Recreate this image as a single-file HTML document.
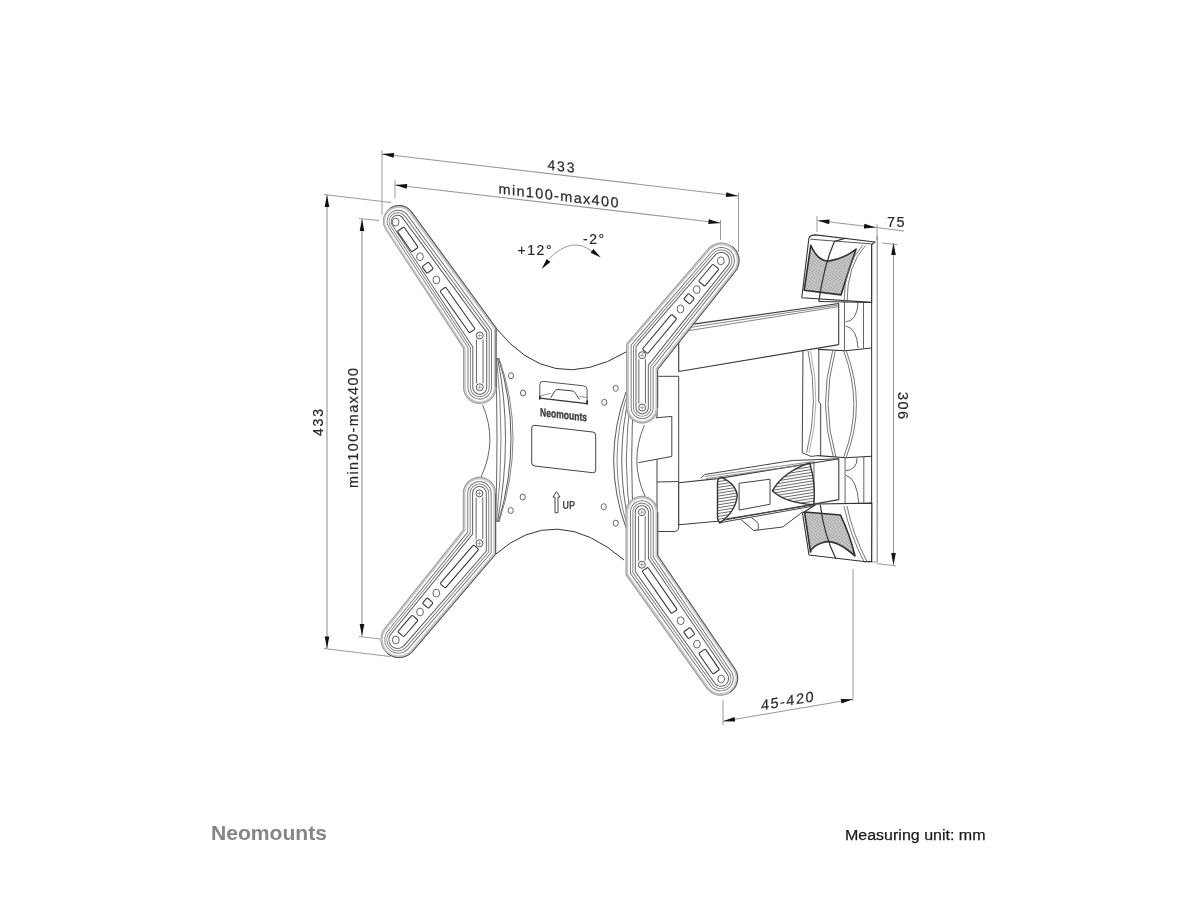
<!DOCTYPE html><html><head><meta charset="utf-8"><style>html,body{margin:0;padding:0;background:#fff;width:1200px;height:900px;overflow:hidden}svg{display:block}</style></head><body>
<svg style="will-change:transform" width="1200" height="900" viewBox="0 0 1200 900" font-family="Liberation Sans, sans-serif">
<line x1="382" y1="150" x2="382" y2="215" stroke="#9a9a9a" stroke-width="1"/>
<line x1="738.5" y1="193" x2="738.5" y2="252" stroke="#9a9a9a" stroke-width="1"/>
<line x1="382" y1="154" x2="738" y2="196" stroke="#9a9a9a" stroke-width="1.15"/><path d="M382.0,154.0 L394.2,153.1 L393.6,157.7 Z" fill="#111"/><path d="M738.0,196.0 L725.8,196.9 L726.4,192.3 Z" fill="#111"/>
<line x1="395" y1="180" x2="395" y2="198" stroke="#9a9a9a" stroke-width="1"/>
<line x1="720.5" y1="220" x2="720.5" y2="240" stroke="#9a9a9a" stroke-width="1"/>
<line x1="395" y1="185" x2="720.5" y2="223" stroke="#9a9a9a" stroke-width="1.15"/><path d="M395.0,185.0 L407.2,184.1 L406.7,188.7 Z" fill="#111"/><path d="M720.5,223.0 L708.3,223.9 L708.8,219.3 Z" fill="#111"/>
<line x1="324" y1="194.5" x2="391" y2="202.5" stroke="#9a9a9a" stroke-width="1"/>
<line x1="324" y1="648.5" x2="390" y2="656.5" stroke="#9a9a9a" stroke-width="1"/>
<line x1="327" y1="195" x2="327" y2="648.5" stroke="#9a9a9a" stroke-width="1.15"/><path d="M327.0,195.0 L329.3,207.0 L324.7,207.0 Z" fill="#111"/><path d="M327.0,648.5 L324.7,636.5 L329.3,636.5 Z" fill="#111"/>
<line x1="359" y1="218.5" x2="379" y2="220.5" stroke="#9a9a9a" stroke-width="1"/>
<line x1="359" y1="636.5" x2="380" y2="639" stroke="#9a9a9a" stroke-width="1"/>
<line x1="362" y1="219" x2="362" y2="636" stroke="#9a9a9a" stroke-width="1.15"/><path d="M362.0,219.0 L364.3,231.0 L359.7,231.0 Z" fill="#111"/><path d="M362.0,636.0 L359.7,624.0 L364.3,624.0 Z" fill="#111"/>
<line x1="817" y1="216" x2="817" y2="232" stroke="#9a9a9a" stroke-width="1"/>
<line x1="877" y1="224" x2="877" y2="240" stroke="#9a9a9a" stroke-width="1"/>
<line x1="876" y1="227.5" x2="904" y2="231" stroke="#9a9a9a" stroke-width="1"/>
<line x1="817.5" y1="220.5" x2="876" y2="227.5" stroke="#9a9a9a" stroke-width="1.15"/><path d="M817.5,220.5 L829.7,219.6 L829.1,224.2 Z" fill="#111"/><path d="M876.0,227.5 L863.8,228.4 L864.4,223.8 Z" fill="#111"/>
<line x1="882" y1="243" x2="897" y2="244.5" stroke="#9a9a9a" stroke-width="1"/>
<line x1="877" y1="563.5" x2="896" y2="566" stroke="#9a9a9a" stroke-width="1"/>
<line x1="893.5" y1="243" x2="893.5" y2="565" stroke="#9a9a9a" stroke-width="1.15"/><path d="M893.5,243.0 L895.8,255.0 L891.2,255.0 Z" fill="#111"/><path d="M893.5,565.0 L891.2,553.0 L895.8,553.0 Z" fill="#111"/>
<line x1="723" y1="700" x2="723" y2="725" stroke="#9a9a9a" stroke-width="1"/>
<line x1="853" y1="569" x2="853" y2="701" stroke="#9a9a9a" stroke-width="1"/>
<line x1="723" y1="721.2" x2="853" y2="699.3" stroke="#9a9a9a" stroke-width="1.15"/><path d="M723.0,721.2 L734.5,716.9 L735.2,721.5 Z" fill="#111"/><path d="M853.0,699.3 L841.5,703.6 L840.8,699.0 Z" fill="#111"/>
<path d="M549,259 Q572,235 593,252" fill="none" stroke="#9a9a9a" stroke-width="1"/>
<path d="M541.7,269.0 L546.7,258.9 L550.4,261.9 Z" fill="#111"/>
<path d="M600.8,257.5 L590.6,252.8 L593.4,249.0 Z" fill="#111"/>
<text x="0" y="0" font-size="14" fill="#2a2a2a" stroke="#2a2a2a" stroke-width="0.2" transform="translate(547.5,169.5) skewY(6.7)" textLength="27" lengthAdjust="spacing">433</text>
<text x="0" y="0" font-size="14.5" fill="#2a2a2a" stroke="#2a2a2a" stroke-width="0.2" transform="translate(498.5,193.6) skewY(6.7)" textLength="120" lengthAdjust="spacing">min100-max400</text>
<text x="0" y="0" font-size="14" fill="#2a2a2a" stroke="#2a2a2a" stroke-width="0.2" transform="translate(323,436) rotate(-90)" textLength="27" lengthAdjust="spacing">433</text>
<text x="0" y="0" font-size="14.5" fill="#2a2a2a" stroke="#2a2a2a" stroke-width="0.2" transform="translate(358,488) rotate(-90)" textLength="120" lengthAdjust="spacing">min100-max400</text>
<text x="0" y="0" font-size="14.5" fill="#2a2a2a" stroke="#2a2a2a" stroke-width="0.2" transform="translate(897.5,392) rotate(90)" textLength="27" lengthAdjust="spacing">306</text>
<text x="887" y="227" font-size="14.5" fill="#2a2a2a" stroke="#2a2a2a" stroke-width="0.2" textLength="17.5" lengthAdjust="spacing">75</text>
<text x="0" y="0" font-size="14.5" fill="#2a2a2a" stroke="#2a2a2a" stroke-width="0.2" transform="translate(761,710.5) skewY(-10)" textLength="52.5" lengthAdjust="spacing">45-420</text>
<text x="517.5" y="255" font-size="14" fill="#2a2a2a" stroke="#2a2a2a" stroke-width="0.2" textLength="34" lengthAdjust="spacing">+12°</text>
<text x="583" y="244" font-size="14" fill="#2a2a2a" stroke="#2a2a2a" stroke-width="0.2" textLength="21" lengthAdjust="spacing">-2°</text>
<g id="drawing"><defs><pattern id="stip" width="2.4" height="2.4" patternUnits="userSpaceOnUse" patternTransform="rotate(35)"><rect width="2.4" height="2.4" fill="#d2d2d2"/><circle cx="1.2" cy="1.2" r="0.75" fill="#8c8c8c"/></pattern></defs>
<path d="M871.6,243 V562" stroke="#444" stroke-width="1.1" fill="none"/>
<path d="M877.2,236 V562" stroke="#888" stroke-width="1.1" fill="none"/>
<path d="M864,562 H877.5" stroke="#999" stroke-width="1"/>
<path d="M803,351 L802.2,452.7 L811,456.4 L818,455.6" fill="none" stroke="#444" stroke-width="1"/>
<path d="M808,351 Q819.6,402 806.6,452.7" fill="none" stroke="#666" stroke-width="0.9"/>
<path d="M810.5,351 Q822,402 809,452.7" fill="none" stroke="#999" stroke-width="0.8"/>
<path d="M818.8,349.4 V402 L820.7,404 V455.6" fill="none" stroke="#444" stroke-width="1"/>
<path d="M832.6,351 Q818,405 833.3,457 M835.2,351 Q820.6,405 835.9,457" fill="none" stroke="#666" stroke-width="0.9"/>
<path d="M846.3,351 Q866.5,405 846.3,457 M843.7,351 Q863.9,405 843.7,457" fill="none" stroke="#666" stroke-width="0.9"/>
<path d="M818,349.4 L845.6,350.8 L871.6,348 M818,455.6 L845.6,457.8 L871.6,456.3" fill="none" stroke="#333" stroke-width="1.1"/>
<path d="M844.5,302 V350.5 M863.5,302.5 V348" stroke="#555" stroke-width="0.9"/>
<path d="M858,303 Q857,321 845.5,322 M845.5,326 Q857,328 858,348" stroke="#555" stroke-width="0.9" fill="none"/>
<path d="M845.1,457.8 V506.2 M863.8,457 V503.5" stroke="#555" stroke-width="0.9"/>
<path d="M857.1,458 Q857,470 845.6,470.7 M845.6,475.1 Q857,478 858.9,504" stroke="#555" stroke-width="0.9" fill="none"/>
<path d="M816.7,504 L843.3,506.2 L871.8,503.1" fill="none" stroke="#333" stroke-width="1.1"/>
<path d="M808.9,238.2 Q810,234.9 815.5,234.9 L875,242 L871.6,244.5 L871.6,302.4 L801.8,297.7 Z" fill="#fff" stroke="#333" stroke-width="1.1" stroke-linejoin="round"/>
<path d="M810.3,239.2 L871.6,243.9" stroke="#444" stroke-width="0.9"/>
<path d="M810.8,245.3 Q818,262 829.7,260.9 Q845,258 856.1,249.1 Q848,272 841,294.9 L804.2,290.2 Z" fill="url(#stip)" stroke="#2e2e2e" stroke-width="1.6" stroke-linejoin="round"/>
<path d="M845.7,238.2 L834.4,241.5 Q824,265 818.8,301.5" stroke="#333" stroke-width="1.2" fill="none"/>
<path d="M862.7,245.3 Q844,265 844,302.7 M865.5,245.5 Q847,265 847,302.7" stroke="#666" stroke-width="0.9" fill="none"/>
<path d="M819,301.5 L872,302.5" stroke="#333" stroke-width="1.1"/>
<path d="M802.5,513 L816.7,504 L871.8,503.1 L871.6,561.5 L864,561.5 L809,555 Z" fill="#fff" stroke="#333" stroke-width="1.1" stroke-linejoin="round"/>
<path d="M804.5,512 L840.5,515 Q850,535 855,556 Q835,538 823,542.5 Q812,546 810.5,552 Z" fill="url(#stip)" stroke="#2e2e2e" stroke-width="1.6" stroke-linejoin="round"/>
<path d="M820.2,504.5 Q824,535 836,559" stroke="#333" stroke-width="1.2" fill="none"/>
<path d="M844,506 Q850,535 864,561.5 M847,506 Q853,535 867,561.5" stroke="#666" stroke-width="0.9" fill="none"/>
<path d="M657,376.3 L678.7,376.3 L678.7,527 Q678.7,531.5 674,531.5 L657,531.5 Z" fill="#fff" stroke="#444" stroke-width="1"/>
<path d="M655.8,417.8 L671.8,416.4 L671.8,456.4 L638.4,462.7 L641,440 L650,420 Z" fill="#fff" stroke="none"/>
<path d="M655.8,417.8 L671.8,416.4 L671.8,456.4 L638.4,462.7" fill="none" stroke="#444" stroke-width="1"/>
<path d="M657,482 L678.5,481.5" stroke="#444" stroke-width="1"/>
<path d="M678.7,336 L690,324.6 L838.7,303.5 L838.7,344.6 L678.7,371.5 Z" fill="#fff" stroke="#3a3a3a" stroke-width="1.1" stroke-linejoin="round"/>
<path d="M689,327.6 L838.7,305 M689,330.6 L838.7,306.6" stroke="#666" stroke-width="0.8"/>
<path d="M678.7,482.7 L717.5,478.6 L838.8,458.8 L838.8,499.6 L717.5,521.2 L678.7,524.7 Z" fill="#fff" stroke="#3a3a3a" stroke-width="1.1" stroke-linejoin="round"/>
<path d="M701.2,478 L704.7,474.5 L792.2,460.5 L838.8,458.8" fill="none" stroke="#444" stroke-width="1"/>
<path d="M704.7,476.5 L814,461.5 M706,478.5 L814,463.5" fill="none" stroke="#777" stroke-width="0.8"/>
<path d="M814,461.5 L814,504.8" fill="none" stroke="#555" stroke-width="0.9"/>
<path d="M718.7,522.9 L813.8,506 M726.8,518.8 L813.8,504.8" fill="none" stroke="#444" stroke-width="1"/>
<clipPath id="h1"><path d="M721.6,477.4 Q736,484 737.3,495.5 Q736,511 720,522.9 Q717.5,521 717.5,518 L717.5,482 Q718,478 721.6,477.4 Z"/></clipPath>
<path d="M721.6,477.4 Q736,484 737.3,495.5 Q736,511 720,522.9 Q717.5,521 717.5,518 L717.5,482 Q718,478 721.6,477.4 Z" fill="#fff"/>
<g clip-path="url(#h1)"><path d="M700,470.0 L830,449.2 M700,472.9 L830,452.1 M700,475.8 L830,455.0 M700,478.7 L830,457.9 M700,481.6 L830,460.8 M700,484.5 L830,463.7 M700,487.4 L830,466.6 M700,490.3 L830,469.5 M700,493.2 L830,472.4 M700,496.1 L830,475.3 M700,499.0 L830,478.2 M700,501.9 L830,481.1 M700,504.8 L830,484.0 M700,507.7 L830,486.9 M700,510.6 L830,489.8 M700,513.5 L830,492.7 M700,516.4 L830,495.6 M700,519.3 L830,498.5 M700,522.2 L830,501.4 M700,525.1 L830,504.3 M700,528.0 L830,507.2 M700,530.9 L830,510.1 M700,533.8 L830,513.0 M700,536.7 L830,515.9 M700,539.6 L830,518.8 M700,542.5 L830,521.7" stroke="#5a5a5a" stroke-width="0.9"/></g>
<path d="M721.6,477.4 Q736,484 737.3,495.5 Q736,511 720,522.9 Q717.5,521 717.5,518 L717.5,482 Q718,478 721.6,477.4 Z" fill="none" stroke="#333" stroke-width="1.4"/>
<clipPath id="h2"><path d="M809.7,462.8 Q783,472 772.3,490.8 Q785,503 813.8,504.8 Q816,484 809.7,462.8 Z"/></clipPath>
<path d="M809.7,462.8 Q783,472 772.3,490.8 Q785,503 813.8,504.8 Q816,484 809.7,462.8 Z" fill="#fff"/>
<g clip-path="url(#h2)"><path d="M700,470.0 L830,449.2 M700,472.9 L830,452.1 M700,475.8 L830,455.0 M700,478.7 L830,457.9 M700,481.6 L830,460.8 M700,484.5 L830,463.7 M700,487.4 L830,466.6 M700,490.3 L830,469.5 M700,493.2 L830,472.4 M700,496.1 L830,475.3 M700,499.0 L830,478.2 M700,501.9 L830,481.1 M700,504.8 L830,484.0 M700,507.7 L830,486.9 M700,510.6 L830,489.8 M700,513.5 L830,492.7 M700,516.4 L830,495.6 M700,519.3 L830,498.5 M700,522.2 L830,501.4 M700,525.1 L830,504.3 M700,528.0 L830,507.2 M700,530.9 L830,510.1 M700,533.8 L830,513.0 M700,536.7 L830,515.9 M700,539.6 L830,518.8 M700,542.5 L830,521.7" stroke="#5a5a5a" stroke-width="0.9"/></g>
<path d="M809.7,462.8 Q783,472 772.3,490.8 Q785,503 813.8,504.8 Q816,484 809.7,462.8 Z" fill="none" stroke="#333" stroke-width="1.4"/>
<path d="M739.1,483.25 L770,479.2 L770,504.25 L739.1,510.1 Z" fill="#fff" stroke="#444" stroke-width="1"/>
<path d="M740.8,519.4 L753.7,530.5 L782.8,527 L802.7,511.8" fill="none" stroke="#444" stroke-width="1"/>
<path d="M751.3,517.7 Q758.3,522 758.3,524.7 Q759,529 757.2,530.5" fill="none" stroke="#444" stroke-width="0.9"/>
<path d="M496,328 Q551,397 626,352 L644.3,400 L644.3,425.3 Q629,461.3 645,496 L645,540 L624,560 Q556,501 495,554.7 L481,520 L481,477 Q498,440.8 482.5,404.7 L482.5,360 Z" fill="#fff" stroke="none"/>
<path d="M496,328 Q551,397 626,352" fill="none" stroke="#333" stroke-width="1"/>
<path d="M495,554.7 Q556,501 624,560" fill="none" stroke="#333" stroke-width="1"/>
<path d="M495.5,358 Q498.5,437 495.5,522" fill="none" stroke="#555" stroke-width="0.9"/>
<path d="M496.5,358 Q505.5,437 496.5,522" fill="none" stroke="#777" stroke-width="0.9"/>
<path d="M497.5,358 Q513.5,437 497.5,522" fill="none" stroke="#555" stroke-width="0.9"/>
<path d="M498.5,358 Q523.5,437 498.5,522" fill="none" stroke="#444" stroke-width="0.9"/>
<path d="M499,358 Q527,437 499,522" fill="none" stroke="#777" stroke-width="0.9"/>
<path d="M482.5,404.7 Q498,440.8 481,477" fill="none" stroke="#555" stroke-width="0.9"/>
<path d="M626,392 Q601.4000000000001,460 626,528" fill="none" stroke="#444" stroke-width="0.9"/>
<path d="M628,392 Q606,460 628,528" fill="none" stroke="#777" stroke-width="0.9"/>
<path d="M630,392 Q613.4000000000001,460 630,528" fill="none" stroke="#555" stroke-width="0.9"/>
<path d="M632,392 Q620.5999999999999,460 632,528" fill="none" stroke="#666" stroke-width="0.9"/>
<path d="M634,392 Q629.4000000000001,460 634,528" fill="none" stroke="#555" stroke-width="0.9"/>
<path d="M644.3,425.3 Q629,461.3 645,496" fill="none" stroke="#555" stroke-width="0.9"/>
<ellipse cx="511" cy="375.7" rx="2.6" ry="3" fill="#fff" stroke="#555" stroke-width="0.9"/>
<ellipse cx="523" cy="393" rx="2.6" ry="3" fill="#fff" stroke="#555" stroke-width="0.9"/>
<ellipse cx="615.7" cy="388.3" rx="2.6" ry="3" fill="#fff" stroke="#555" stroke-width="0.9"/>
<ellipse cx="604.3" cy="402.3" rx="2.6" ry="3" fill="#fff" stroke="#555" stroke-width="0.9"/>
<ellipse cx="522.7" cy="497" rx="2.6" ry="3" fill="#fff" stroke="#555" stroke-width="0.9"/>
<ellipse cx="510.7" cy="510.5" rx="2.6" ry="3" fill="#fff" stroke="#555" stroke-width="0.9"/>
<ellipse cx="603.7" cy="506.7" rx="2.6" ry="3" fill="#fff" stroke="#555" stroke-width="0.9"/>
<ellipse cx="615.7" cy="523.2" rx="2.6" ry="3" fill="#fff" stroke="#555" stroke-width="0.9"/>
<path d="M539.8,398.8 L539.8,384.5 Q539.8,381 543.3,381.4 L583.3,385.8 Q587.1,386.2 587.1,390 L587.1,404.3" fill="none" stroke="#555" stroke-width="1"/>
<path d="M539.8,398.2 L586.8,403.7" fill="none" stroke="#333" stroke-width="1.2"/>
<path d="M550.8,397.8 L555,390.6 Q556,389.3 558,389.5 L572,390.9 Q574,391.1 575,392.6 L579.6,399.6" fill="none" stroke="#444" stroke-width="1"/>
<path d="M540.4,395.8 L550.8,393.3 M579.5,396.4 L587.1,397.6" fill="none" stroke="#888" stroke-width="0.9"/>
<path d="M539.8,396 V399.5 M587.1,400.5 V404.5" fill="none" stroke="#222" stroke-width="1.6"/>
<path d="M534.7,425.3 L592.7,432 Q595.7,432.3 595.7,435.3 L595.7,470 Q595.7,473 592.7,472.7 L534.7,466 Q531.7,465.7 531.7,462.7 L531.7,428 Q531.7,425 534.7,425.3 Z" fill="#fff" stroke="#444" stroke-width="1"/>
<text x="0" y="0" font-size="11.5" font-weight="bold" fill="#3a3a3a" stroke="#3a3a3a" stroke-width="0.35" transform="translate(540,416) skewY(6.5)" textLength="47" lengthAdjust="spacingAndGlyphs">Neomounts</text>
<path d="M556.5,491.7 L560,497 L558,497 L558,512.7 L555,512.7 L555,497 L553,497 Z" fill="#fff" stroke="#333" stroke-width="0.9" stroke-linejoin="round"/>
<text x="562.5" y="508.5" font-size="11" font-weight="bold" fill="#444" textLength="12.5" lengthAdjust="spacingAndGlyphs">UP</text>
<path d="M463.00,327.79 L496.50,327.79 L496.50,387.25 L496.36,389.44 L495.93,391.59 L495.22,393.66 L494.26,395.62 L493.04,397.45 L491.59,399.09 L489.95,400.54 L488.12,401.76 L486.16,402.72 L484.09,403.43 L481.94,403.86 L479.75,404.00 L477.56,403.86 L475.41,403.43 L473.34,402.72 L471.38,401.76 L469.55,400.54 L467.91,399.09 L466.46,397.45 L465.24,395.62 L464.28,393.66 L463.57,391.59 L463.14,389.44 L463.00,387.25 Z M412.24,212.05 L496.50,327.79 L463.00,348.18 L385.76,230.35 L384.67,228.55 L383.84,226.61 L383.26,224.59 L382.95,222.51 L382.92,220.40 L383.16,218.31 L383.67,216.27 L384.45,214.31 L385.47,212.47 L386.73,210.78 L388.20,209.26 L389.85,207.96 L391.65,206.87 L393.59,206.04 L395.61,205.46 L397.69,205.15 L399.80,205.12 L401.89,205.36 L403.93,205.87 L405.89,206.65 L407.73,207.67 L409.42,208.93 L410.94,210.40 Z" fill="#929292" fill-rule="nonzero"/>
<path d="M463.80,328.17 L495.70,328.17 L495.70,387.25 L495.56,389.33 L495.16,391.38 L494.49,393.35 L493.56,395.23 L492.40,396.96 L491.03,398.53 L489.46,399.90 L487.73,401.06 L485.85,401.99 L483.88,402.66 L481.83,403.06 L479.75,403.20 L477.67,403.06 L475.62,402.66 L473.65,401.99 L471.77,401.06 L470.04,399.90 L468.47,398.53 L467.10,396.96 L465.94,395.23 L465.01,393.35 L464.34,391.38 L463.94,389.33 L463.80,387.25 Z M411.46,212.53 L495.70,328.17 L463.80,348.07 L386.30,229.93 L385.27,228.22 L384.47,226.38 L383.92,224.46 L383.63,222.48 L383.60,220.48 L383.83,218.49 L384.32,216.55 L385.05,214.69 L386.03,212.94 L387.22,211.33 L388.61,209.89 L390.18,208.65 L391.89,207.62 L393.73,206.82 L395.66,206.28 L397.64,205.98 L399.64,205.95 L401.63,206.18 L403.57,206.67 L405.43,207.40 L407.18,208.38 L408.78,209.57 L410.22,210.96 Z" fill="#c6c6c6" fill-rule="nonzero"/>
<path d="M465.70,329.06 L493.80,329.06 L493.80,387.25 L493.68,389.08 L493.32,390.89 L492.73,392.63 L491.92,394.27 L490.90,395.80 L489.68,397.18 L488.30,398.40 L486.77,399.42 L485.13,400.23 L483.39,400.82 L481.58,401.18 L479.75,401.30 L477.92,401.18 L476.11,400.82 L474.37,400.23 L472.73,399.42 L471.20,398.40 L469.82,397.18 L468.60,395.80 L467.58,394.27 L466.77,392.63 L466.18,390.89 L465.82,389.08 L465.70,387.25 Z M409.61,213.68 L493.80,329.06 L465.70,347.81 L387.58,228.94 L386.68,227.43 L385.98,225.83 L385.50,224.14 L385.24,222.41 L385.21,220.65 L385.41,218.91 L385.84,217.21 L386.48,215.58 L387.33,214.05 L388.38,212.64 L389.60,211.38 L390.97,210.29 L392.47,209.39 L394.08,208.69 L395.76,208.21 L397.50,207.95 L399.25,207.92 L400.99,208.12 L402.69,208.55 L404.32,209.19 L405.86,210.04 L407.26,211.08 L408.52,212.30 Z" fill="#ffffff" fill-rule="nonzero"/>
<path d="M467.50,329.92 L492.00,329.92 L492.00,387.25 L491.90,388.85 L491.58,390.42 L491.07,391.94 L490.36,393.38 L489.47,394.71 L488.41,395.91 L487.21,396.97 L485.88,397.86 L484.44,398.57 L482.92,399.08 L481.35,399.40 L479.75,399.50 L478.15,399.40 L476.58,399.08 L475.06,398.57 L473.62,397.86 L472.29,396.97 L471.09,395.91 L470.03,394.71 L469.14,393.38 L468.43,391.94 L467.92,390.42 L467.60,388.85 L467.50,387.25 Z M407.86,214.76 L492.00,329.92 L467.50,347.57 L388.80,227.99 L388.02,226.69 L387.41,225.30 L387.00,223.84 L386.77,222.34 L386.74,220.82 L386.92,219.31 L387.28,217.84 L387.84,216.43 L388.58,215.10 L389.48,213.88 L390.53,212.79 L391.72,211.85 L393.02,211.06 L394.41,210.46 L395.87,210.04 L397.37,209.82 L398.89,209.79 L400.40,209.96 L401.87,210.33 L403.28,210.89 L404.61,211.62 L405.83,212.52 L406.92,213.58 Z" fill="#707070" fill-rule="nonzero"/>
<path d="M468.40,330.34 L491.10,330.34 L491.10,387.25 L491.00,388.73 L490.71,390.19 L490.24,391.59 L489.58,392.93 L488.75,394.16 L487.78,395.28 L486.66,396.25 L485.43,397.08 L484.09,397.74 L482.69,398.21 L481.23,398.50 L479.75,398.60 L478.27,398.50 L476.81,398.21 L475.41,397.74 L474.07,397.08 L472.84,396.25 L471.72,395.28 L470.75,394.16 L469.92,392.93 L469.26,391.59 L468.79,390.19 L468.50,388.73 L468.40,387.25 Z M406.99,215.31 L491.10,330.34 L468.40,347.45 L389.41,227.51 L388.69,226.32 L388.13,225.03 L387.74,223.69 L387.53,222.30 L387.51,220.90 L387.67,219.51 L388.01,218.15 L388.52,216.85 L389.20,215.63 L390.03,214.50 L391.00,213.49 L392.10,212.62 L393.29,211.90 L394.58,211.34 L395.92,210.96 L397.31,210.75 L398.71,210.72 L400.10,210.88 L401.46,211.22 L402.76,211.73 L403.98,212.41 L405.11,213.24 L406.12,214.21 Z" fill="#ffffff" fill-rule="nonzero"/>
<path d="M469.90,331.05 L489.60,331.05 L489.60,387.25 L489.52,388.54 L489.26,389.80 L488.85,391.02 L488.28,392.18 L487.56,393.25 L486.72,394.22 L485.75,395.06 L484.68,395.78 L483.52,396.35 L482.30,396.76 L481.04,397.02 L479.75,397.10 L478.46,397.02 L477.20,396.76 L475.98,396.35 L474.82,395.78 L473.75,395.06 L472.78,394.22 L471.94,393.25 L471.22,392.18 L470.65,391.02 L470.24,389.80 L469.98,388.54 L469.90,387.25 Z M405.53,216.22 L489.60,331.05 L469.90,347.24 L390.42,226.72 L389.80,225.69 L389.32,224.59 L388.99,223.43 L388.81,222.24 L388.79,221.04 L388.92,219.84 L389.21,218.68 L389.65,217.56 L390.23,216.50 L390.95,215.53 L391.78,214.67 L392.72,213.92 L393.75,213.30 L394.86,212.82 L396.01,212.48 L397.20,212.30 L398.41,212.28 L399.60,212.42 L400.77,212.71 L401.89,213.15 L402.94,213.73 L403.91,214.44 L404.78,215.28 Z" fill="#7c7c7c" fill-rule="nonzero"/>
<path d="M470.80,331.48 L488.70,331.48 L488.70,387.25 L488.62,388.42 L488.40,389.57 L488.02,390.68 L487.50,391.73 L486.85,392.70 L486.08,393.58 L485.20,394.35 L484.23,395.00 L483.18,395.52 L482.07,395.90 L480.92,396.12 L479.75,396.20 L478.58,396.12 L477.43,395.90 L476.32,395.52 L475.27,395.00 L474.30,394.35 L473.42,393.58 L472.65,392.70 L472.00,391.73 L471.48,390.68 L471.10,389.57 L470.88,388.42 L470.80,387.25 Z M404.65,216.77 L488.70,331.48 L470.80,347.12 L391.03,226.25 L390.47,225.32 L390.03,224.32 L389.73,223.28 L389.57,222.21 L389.55,221.12 L389.67,220.04 L389.93,218.99 L390.33,217.98 L390.85,217.03 L391.50,216.15 L392.25,215.37 L393.10,214.69 L394.03,214.13 L395.03,213.70 L396.07,213.40 L397.14,213.24 L398.23,213.22 L399.31,213.34 L400.36,213.60 L401.37,213.99 L402.32,214.52 L403.20,215.16 L403.98,215.92 Z" fill="#ffffff" fill-rule="nonzero"/>
<path d="M472.30,332.19 L487.20,332.19 L487.20,387.25 L487.14,388.22 L486.95,389.18 L486.63,390.10 L486.20,390.98 L485.66,391.79 L485.02,392.52 L484.29,393.16 L483.48,393.70 L482.60,394.13 L481.68,394.45 L480.72,394.64 L479.75,394.70 L478.78,394.64 L477.82,394.45 L476.90,394.13 L476.02,393.70 L475.21,393.16 L474.48,392.52 L473.84,391.79 L473.30,390.98 L472.87,390.10 L472.55,389.18 L472.36,388.22 L472.30,387.25 Z M403.20,217.68 L487.20,332.19 L472.30,346.91 L392.04,225.45 L391.58,224.69 L391.22,223.88 L390.98,223.02 L390.84,222.14 L390.83,221.25 L390.92,220.37 L391.14,219.51 L391.46,218.68 L391.89,217.90 L392.42,217.18 L393.04,216.54 L393.73,215.99 L394.49,215.53 L395.31,215.17 L396.16,214.92 L397.04,214.79 L397.93,214.77 L398.82,214.87 L399.68,215.09 L400.51,215.41 L401.29,215.84 L402.00,216.37 L402.64,216.98 Z" fill="#606060" fill-rule="nonzero"/>
<path d="M473.30,332.66 L486.20,332.66 L486.20,387.25 L486.14,388.09 L485.98,388.92 L485.71,389.72 L485.34,390.48 L484.87,391.18 L484.31,391.81 L483.68,392.37 L482.98,392.84 L482.22,393.21 L481.42,393.48 L480.59,393.64 L479.75,393.70 L478.91,393.64 L478.08,393.48 L477.28,393.21 L476.52,392.84 L475.82,392.37 L475.19,391.81 L474.63,391.18 L474.16,390.48 L473.79,389.72 L473.52,388.92 L473.36,388.09 L473.30,387.25 Z M402.23,218.29 L486.20,332.66 L473.30,346.77 L392.71,224.92 L392.32,224.27 L392.02,223.58 L391.80,222.85 L391.69,222.10 L391.68,221.34 L391.76,220.59 L391.94,219.85 L392.22,219.14 L392.58,218.48 L393.03,217.87 L393.56,217.32 L394.15,216.85 L394.80,216.45 L395.50,216.15 L396.23,215.94 L396.98,215.83 L397.73,215.81 L398.49,215.90 L399.23,216.08 L399.93,216.35 L400.60,216.72 L401.21,217.17 L401.75,217.70 Z" fill="#ffffff" fill-rule="nonzero"/>
<path d="M390.07,208.28 L391.38,207.47 L392.76,206.79 L394.21,206.25 L395.70,205.85 L397.22,205.60 L398.75,205.50 L400.29,205.55 L401.82,205.76 L403.32,206.11 L404.78,206.60 L406.18,207.24 L407.52,208.01 L408.77,208.91 L409.93,209.93 L410.98,211.05 L411.92,212.27 L496.10,327.79 L496.10,327.79 L496.10,387.25" fill="none" stroke="#4a4a4a" stroke-width="0.9" stroke-linejoin="round"/>
<ellipse cx="395.60" cy="222.10" rx="3.4" ry="3.91" fill="#fff" stroke="#555" stroke-width="0.9"/>
<rect x="0" y="-4.0" width="25.11" height="8" rx="1.2" fill="#fff" stroke="#3a3a3a" stroke-width="1.1" transform="translate(400.55,229.13) rotate(54.83)"/>
<ellipse cx="419.97" cy="256.69" rx="3.4" ry="3.91" fill="#fff" stroke="#555" stroke-width="0.9"/>
<rect x="0" y="-4.0" width="8.32" height="8" rx="1.2" fill="#fff" stroke="#3a3a3a" stroke-width="1.1" transform="translate(425.32,264.28) rotate(54.83)"/>
<ellipse cx="436.35" cy="279.93" rx="3.4" ry="3.91" fill="#fff" stroke="#555" stroke-width="0.9"/>
<rect x="0" y="-3.5" width="51.33" height="7" rx="1.2" fill="#fff" stroke="#3a3a3a" stroke-width="1.1" transform="translate(442.74,289.01) rotate(54.83)"/>
<circle cx="479.75" cy="335.50" r="3.5" fill="#fff" stroke="#444" stroke-width="0.9"/>
<path d="M477.55,335.50 H481.95 M479.75,333.30 V337.70" stroke="#777" stroke-width="0.6"/>
<circle cx="479.75" cy="387.25" r="3.5" fill="#fff" stroke="#444" stroke-width="0.9"/>
<path d="M477.55,387.25 H481.95 M479.75,385.05 V389.45" stroke="#777" stroke-width="0.6"/>
<path d="M476.45,339.50 V383.25 M483.05,339.50 V383.25" stroke="#555" stroke-width="0.9"/>
<path d="M462.80,554.19 L496.10,554.19 L496.10,493.35 L495.96,491.18 L495.53,489.04 L494.83,486.98 L493.87,485.03 L492.66,483.21 L491.22,481.58 L489.59,480.14 L487.77,478.93 L485.82,477.97 L483.76,477.27 L481.62,476.84 L479.45,476.70 L477.28,476.84 L475.14,477.27 L473.08,477.97 L471.12,478.93 L469.31,480.14 L467.68,481.58 L466.24,483.21 L465.03,485.03 L464.07,486.98 L463.37,489.04 L462.94,491.18 L462.80,493.35 Z M413.27,651.28 L496.10,554.19 L462.80,529.93 L384.73,627.72 L383.32,629.69 L382.17,631.82 L381.31,634.08 L380.76,636.44 L380.51,638.84 L380.58,641.26 L380.97,643.65 L381.67,645.97 L382.66,648.17 L383.93,650.23 L385.46,652.11 L387.22,653.77 L389.19,655.18 L391.32,656.33 L393.58,657.19 L395.94,657.74 L398.34,657.99 L400.76,657.92 L403.15,657.53 L405.47,656.83 L407.67,655.84 L409.73,654.57 L411.61,653.04 Z" fill="#929292" fill-rule="nonzero"/>
<path d="M463.60,553.95 L495.30,553.95 L495.30,493.35 L495.16,491.28 L494.76,489.25 L494.09,487.28 L493.18,485.43 L492.02,483.70 L490.66,482.14 L489.10,480.78 L487.38,479.62 L485.52,478.71 L483.55,478.04 L481.52,477.64 L479.45,477.50 L477.38,477.64 L475.35,478.04 L473.38,478.71 L471.52,479.62 L469.80,480.78 L468.24,482.14 L466.88,483.70 L465.72,485.43 L464.81,487.28 L464.14,489.25 L463.74,491.28 L463.60,493.35 Z M412.53,650.80 L495.30,553.95 L463.60,530.27 L385.25,628.24 L383.89,630.12 L382.79,632.15 L381.97,634.32 L381.44,636.57 L381.20,638.87 L381.27,641.19 L381.64,643.47 L382.30,645.69 L383.25,647.80 L384.46,649.77 L385.93,651.57 L387.61,653.16 L389.49,654.51 L391.52,655.61 L393.69,656.44 L395.94,656.97 L398.24,657.21 L400.56,657.14 L402.84,656.77 L405.06,656.11 L407.17,655.16 L409.15,653.94 L410.94,652.48 Z" fill="#c6c6c6" fill-rule="nonzero"/>
<path d="M465.50,553.35 L493.40,553.35 L493.40,493.35 L493.28,491.53 L492.92,489.74 L492.34,488.01 L491.53,486.38 L490.52,484.86 L489.31,483.49 L487.94,482.28 L486.43,481.27 L484.79,480.46 L483.06,479.88 L481.27,479.52 L479.45,479.40 L477.63,479.52 L475.84,479.88 L474.11,480.46 L472.47,481.27 L470.96,482.28 L469.59,483.49 L468.38,484.86 L467.37,486.38 L466.56,488.01 L465.98,489.74 L465.62,491.53 L465.50,493.35 Z M410.78,649.65 L493.40,553.35 L465.50,531.06 L386.47,629.47 L385.25,631.14 L384.27,632.96 L383.53,634.89 L383.05,636.90 L382.83,638.95 L382.89,641.02 L383.22,643.06 L383.80,645.04 L384.65,646.93 L385.73,648.69 L387.03,650.29 L388.53,651.72 L390.20,652.93 L392.02,653.91 L393.95,654.65 L395.96,655.13 L398.02,655.35 L400.08,655.29 L402.12,654.97 L404.10,654.38 L405.99,653.54 L407.75,652.45 L409.36,651.15 Z" fill="#ffffff" fill-rule="nonzero"/>
<path d="M467.30,552.79 L491.60,552.79 L491.60,493.35 L491.50,491.76 L491.19,490.21 L490.68,488.70 L489.97,487.28 L489.09,485.95 L488.04,484.76 L486.85,483.71 L485.52,482.83 L484.10,482.12 L482.59,481.61 L481.04,481.30 L479.45,481.20 L477.86,481.30 L476.31,481.61 L474.80,482.12 L473.38,482.83 L472.05,483.71 L470.86,484.76 L469.81,485.95 L468.93,487.28 L468.22,488.70 L467.71,490.21 L467.40,491.76 L467.30,493.35 Z M409.13,648.56 L491.60,552.79 L467.30,531.81 L387.62,630.64 L386.54,632.12 L385.66,633.72 L385.00,635.43 L384.58,637.21 L384.38,639.04 L384.43,640.87 L384.71,642.67 L385.23,644.43 L385.97,646.10 L386.93,647.67 L388.08,649.09 L389.41,650.35 L390.89,651.43 L392.50,652.31 L394.21,652.96 L395.99,653.39 L397.81,653.59 L399.64,653.54 L401.45,653.26 L403.20,652.74 L404.88,651.99 L406.44,651.04 L407.86,649.89 Z" fill="#707070" fill-rule="nonzero"/>
<path d="M468.20,552.50 L490.70,552.50 L490.70,493.35 L490.60,491.88 L490.32,490.44 L489.84,489.04 L489.19,487.73 L488.38,486.50 L487.40,485.40 L486.30,484.42 L485.07,483.61 L483.76,482.96 L482.36,482.48 L480.92,482.20 L479.45,482.10 L477.98,482.20 L476.54,482.48 L475.14,482.96 L473.82,483.61 L472.60,484.42 L471.50,485.40 L470.52,486.50 L469.71,487.73 L469.06,489.04 L468.58,490.44 L468.30,491.88 L468.20,493.35 Z M408.30,648.01 L490.70,552.50 L468.20,532.18 L388.19,631.22 L387.18,632.61 L386.36,634.11 L385.74,635.71 L385.34,637.37 L385.16,639.08 L385.20,640.79 L385.46,642.48 L385.95,644.13 L386.64,645.70 L387.53,647.16 L388.61,648.49 L389.85,649.67 L391.23,650.68 L392.74,651.50 L394.34,652.12 L396.00,652.52 L397.71,652.71 L399.42,652.67 L401.11,652.40 L402.76,651.92 L404.32,651.22 L405.79,650.33 L407.12,649.25 Z" fill="#ffffff" fill-rule="nonzero"/>
<path d="M469.70,552.02 L489.20,552.02 L489.20,493.35 L489.12,492.08 L488.87,490.83 L488.46,489.62 L487.89,488.48 L487.19,487.41 L486.34,486.46 L485.39,485.61 L484.32,484.91 L483.18,484.34 L481.97,483.93 L480.72,483.68 L479.45,483.60 L478.18,483.68 L476.93,483.93 L475.72,484.34 L474.57,484.91 L473.51,485.61 L472.56,486.46 L471.71,487.41 L471.01,488.48 L470.44,489.62 L470.03,490.83 L469.78,492.08 L469.70,493.35 Z M406.93,647.10 L489.20,552.02 L469.70,532.81 L389.14,632.20 L388.25,633.43 L387.52,634.76 L386.97,636.17 L386.61,637.65 L386.45,639.16 L386.48,640.67 L386.71,642.17 L387.14,643.63 L387.75,645.02 L388.54,646.31 L389.49,647.50 L390.59,648.54 L391.81,649.44 L393.14,650.17 L394.56,650.72 L396.03,651.08 L397.54,651.24 L399.06,651.21 L400.56,650.97 L402.01,650.55 L403.40,649.94 L404.70,649.15 L405.88,648.20 Z" fill="#7c7c7c" fill-rule="nonzero"/>
<path d="M470.60,551.73 L488.30,551.73 L488.30,493.35 L488.22,492.19 L488.00,491.06 L487.63,489.96 L487.11,488.93 L486.47,487.96 L485.71,487.09 L484.84,486.33 L483.88,485.69 L482.84,485.17 L481.74,484.80 L480.61,484.58 L479.45,484.50 L478.29,484.58 L477.16,484.80 L476.06,485.17 L475.02,485.69 L474.06,486.33 L473.19,487.09 L472.43,487.96 L471.79,488.93 L471.27,489.96 L470.90,491.06 L470.68,492.19 L470.60,493.35 Z M406.11,646.55 L488.30,551.73 L470.60,533.19 L389.71,632.79 L388.89,633.92 L388.21,635.15 L387.70,636.45 L387.37,637.81 L387.22,639.20 L387.25,640.60 L387.46,641.99 L387.85,643.33 L388.42,644.61 L389.14,645.81 L390.02,646.90 L391.03,647.87 L392.16,648.69 L393.39,649.37 L394.69,649.88 L396.05,650.21 L397.44,650.36 L398.84,650.33 L400.23,650.12 L401.57,649.73 L402.85,649.16 L404.05,648.44 L405.14,647.56 Z" fill="#ffffff" fill-rule="nonzero"/>
<path d="M472.10,551.25 L486.80,551.25 L486.80,493.35 L486.74,492.39 L486.55,491.45 L486.24,490.54 L485.82,489.68 L485.28,488.88 L484.65,488.15 L483.92,487.52 L483.12,486.98 L482.26,486.56 L481.35,486.25 L480.41,486.06 L479.45,486.00 L478.49,486.06 L477.55,486.25 L476.64,486.56 L475.77,486.98 L474.98,487.52 L474.25,488.15 L473.62,488.88 L473.08,489.68 L472.66,490.54 L472.35,491.45 L472.16,492.39 L472.10,493.35 Z M404.74,645.63 L486.80,551.25 L472.10,533.82 L390.66,633.78 L389.95,634.75 L389.37,635.80 L388.93,636.92 L388.64,638.09 L388.51,639.29 L388.53,640.49 L388.71,641.68 L389.05,642.84 L389.53,643.94 L390.16,644.97 L390.91,645.91 L391.78,646.74 L392.74,647.45 L393.80,648.04 L394.92,648.47 L396.09,648.76 L397.28,648.89 L398.49,648.87 L399.68,648.69 L400.83,648.35 L401.94,647.87 L402.97,647.25 L403.90,646.50 Z" fill="#606060" fill-rule="nonzero"/>
<path d="M473.10,550.93 L485.80,550.93 L485.80,493.35 L485.75,492.52 L485.58,491.71 L485.32,490.92 L484.95,490.18 L484.49,489.48 L483.94,488.86 L483.32,488.31 L482.62,487.85 L481.88,487.48 L481.09,487.22 L480.28,487.05 L479.45,487.00 L478.62,487.05 L477.81,487.22 L477.02,487.48 L476.27,487.85 L475.58,488.31 L474.96,488.86 L474.41,489.48 L473.95,490.18 L473.58,490.92 L473.32,491.71 L473.15,492.52 L473.10,493.35 Z M403.83,645.01 L485.80,550.93 L473.10,534.24 L391.29,634.44 L390.66,635.30 L390.14,636.24 L389.75,637.24 L389.49,638.28 L389.37,639.35 L389.39,640.42 L389.55,641.48 L389.85,642.51 L390.28,643.49 L390.83,644.41 L391.50,645.25 L392.27,645.99 L393.14,646.63 L394.08,647.15 L395.07,647.54 L396.12,647.80 L397.18,647.92 L398.25,647.90 L399.31,647.74 L400.34,647.44 L401.33,647.01 L402.25,646.45 L403.08,645.78 Z" fill="#ffffff" fill-rule="nonzero"/>
<path d="M387.48,653.46 L388.90,654.52 L390.42,655.44 L392.03,656.20 L393.70,656.81 L395.42,657.24 L397.18,657.51 L398.95,657.60 L400.72,657.52 L402.48,657.26 L404.21,656.84 L405.88,656.24 L407.49,655.49 L409.01,654.58 L410.44,653.52 L411.76,652.33 L412.96,651.02 L495.70,554.19 L495.70,554.19 L495.70,493.35" fill="none" stroke="#4a4a4a" stroke-width="0.9" stroke-linejoin="round"/>
<ellipse cx="395.80" cy="640.00" rx="3.4" ry="3.91" fill="#fff" stroke="#555" stroke-width="0.9"/>
<rect x="0" y="-4.0" width="21.99" height="8" rx="1.2" fill="#fff" stroke="#3a3a3a" stroke-width="1.1" transform="translate(400.73,634.30) rotate(-49.14)"/>
<ellipse cx="420.04" cy="611.98" rx="3.4" ry="3.91" fill="#fff" stroke="#555" stroke-width="0.9"/>
<rect x="0" y="-4.0" width="7.29" height="8" rx="1.2" fill="#fff" stroke="#3a3a3a" stroke-width="1.1" transform="translate(425.36,605.83) rotate(-49.14)"/>
<ellipse cx="436.33" cy="593.15" rx="3.4" ry="3.91" fill="#fff" stroke="#555" stroke-width="0.9"/>
<rect x="0" y="-3.5" width="51.08" height="7" rx="1.2" fill="#fff" stroke="#3a3a3a" stroke-width="1.1" transform="translate(442.69,585.80) rotate(-49.14)"/>
<circle cx="479.45" cy="543.30" r="3.5" fill="#fff" stroke="#444" stroke-width="0.9"/>
<path d="M477.25,543.30 H481.65 M479.45,541.10 V545.50" stroke="#777" stroke-width="0.6"/>
<circle cx="479.45" cy="493.35" r="3.5" fill="#fff" stroke="#444" stroke-width="0.9"/>
<path d="M477.25,493.35 H481.65 M479.45,491.15 V495.55" stroke="#777" stroke-width="0.6"/>
<path d="M476.15,497.35 V539.30 M482.75,497.35 V539.30" stroke="#555" stroke-width="0.9"/>
<path d="M626.20,343.68 L658.10,343.68 L658.10,407.60 L657.96,409.68 L657.56,411.73 L656.89,413.70 L655.96,415.58 L654.80,417.31 L653.43,418.88 L651.86,420.25 L650.12,421.41 L648.25,422.34 L646.28,423.01 L644.23,423.41 L642.15,423.55 L640.07,423.41 L638.02,423.01 L636.05,422.34 L634.17,421.41 L632.44,420.25 L630.87,418.88 L629.50,417.31 L628.34,415.58 L627.41,413.70 L626.74,411.73 L626.34,409.68 L626.20,407.60 Z M735.38,271.96 L658.10,369.58 L626.20,343.68 L707.62,249.04 L709.23,247.33 L711.06,245.84 L713.06,244.60 L715.21,243.64 L717.46,242.96 L719.79,242.58 L722.14,242.51 L724.48,242.75 L726.77,243.29 L728.97,244.13 L731.05,245.24 L732.96,246.62 L734.67,248.23 L736.16,250.06 L737.40,252.06 L738.36,254.21 L739.04,256.46 L739.42,258.79 L739.49,261.14 L739.25,263.48 L738.71,265.77 L737.87,267.97 L736.76,270.05 Z" fill="#929292" fill-rule="nonzero"/>
<path d="M627.00,343.92 L657.30,343.92 L657.30,407.60 L657.17,409.58 L656.78,411.52 L656.15,413.40 L655.27,415.18 L654.17,416.82 L652.86,418.31 L651.37,419.62 L649.73,420.72 L647.95,421.60 L646.07,422.23 L644.13,422.62 L642.15,422.75 L640.17,422.62 L638.23,422.23 L636.35,421.60 L634.57,420.72 L632.93,419.62 L631.44,418.31 L630.13,416.82 L629.03,415.18 L628.15,413.40 L627.52,411.52 L627.13,409.58 L627.00,407.60 Z M734.74,271.46 L657.30,369.23 L627.00,343.92 L708.21,249.56 L709.76,247.92 L711.50,246.50 L713.41,245.32 L715.47,244.39 L717.62,243.75 L719.84,243.39 L722.09,243.32 L724.33,243.55 L726.52,244.07 L728.62,244.87 L730.60,245.93 L732.43,247.25 L734.07,248.79 L735.49,250.53 L736.67,252.45 L737.59,254.50 L738.24,256.66 L738.60,258.88 L738.66,261.13 L738.44,263.36 L737.92,265.55 L737.12,267.66 L736.05,269.64 Z" fill="#c6c6c6" fill-rule="nonzero"/>
<path d="M628.90,344.47 L655.40,344.47 L655.40,407.60 L655.29,409.33 L654.95,411.03 L654.39,412.67 L653.62,414.23 L652.66,415.67 L651.52,416.97 L650.22,418.11 L648.77,419.07 L647.22,419.84 L645.58,420.40 L643.88,420.74 L642.15,420.85 L640.42,420.74 L638.72,420.40 L637.08,419.84 L635.52,419.07 L634.08,418.11 L632.78,416.97 L631.64,415.67 L630.68,414.23 L629.91,412.67 L629.35,411.03 L629.01,409.33 L628.90,407.60 Z M733.21,270.28 L655.40,368.41 L628.90,344.47 L709.63,250.79 L711.00,249.33 L712.55,248.07 L714.25,247.02 L716.08,246.20 L718.00,245.62 L719.97,245.30 L721.97,245.25 L723.96,245.45 L725.91,245.91 L727.78,246.62 L729.54,247.57 L731.17,248.74 L732.62,250.12 L733.89,251.67 L734.94,253.37 L735.76,255.20 L736.33,257.12 L736.65,259.09 L736.71,261.09 L736.50,263.08 L736.04,265.03 L735.33,266.90 L734.38,268.66 Z" fill="#ffffff" fill-rule="nonzero"/>
<path d="M630.70,345.00 L653.60,345.00 L653.60,407.60 L653.50,409.09 L653.21,410.56 L652.73,411.98 L652.07,413.33 L651.23,414.57 L650.25,415.70 L649.12,416.68 L647.88,417.52 L646.53,418.18 L645.11,418.66 L643.64,418.95 L642.15,419.05 L640.66,418.95 L639.19,418.66 L637.77,418.18 L636.42,417.52 L635.18,416.68 L634.05,415.70 L633.07,414.57 L632.23,413.33 L631.57,411.98 L631.09,410.56 L630.80,409.09 L630.70,407.60 Z M731.76,269.17 L653.60,367.62 L630.70,345.00 L710.96,251.95 L712.17,250.67 L713.54,249.55 L715.05,248.63 L716.66,247.90 L718.35,247.40 L720.09,247.12 L721.86,247.07 L723.62,247.25 L725.33,247.66 L726.98,248.29 L728.54,249.12 L729.97,250.16 L731.25,251.37 L732.37,252.74 L733.29,254.24 L734.02,255.86 L734.52,257.55 L734.80,259.29 L734.85,261.06 L734.67,262.81 L734.26,264.53 L733.64,266.18 L732.80,267.74 Z" fill="#707070" fill-rule="nonzero"/>
<path d="M631.60,345.26 L652.70,345.26 L652.70,407.60 L652.61,408.98 L652.34,410.33 L651.90,411.64 L651.29,412.88 L650.52,414.02 L649.61,415.06 L648.57,415.97 L647.42,416.74 L646.19,417.35 L644.88,417.79 L643.53,418.06 L642.15,418.15 L640.77,418.06 L639.42,417.79 L638.11,417.35 L636.88,416.74 L635.73,415.97 L634.69,415.06 L633.78,414.02 L633.01,412.88 L632.40,411.64 L631.96,410.33 L631.69,408.98 L631.60,407.60 Z M731.04,268.61 L652.70,367.23 L631.60,345.26 L711.63,252.53 L712.76,251.34 L714.04,250.30 L715.44,249.43 L716.95,248.76 L718.53,248.29 L720.16,248.03 L721.80,247.98 L723.44,248.15 L725.05,248.53 L726.59,249.12 L728.04,249.90 L729.37,250.87 L730.57,252.00 L731.61,253.28 L732.47,254.68 L733.15,256.18 L733.62,257.76 L733.88,259.39 L733.93,261.04 L733.76,262.68 L733.38,264.28 L732.79,265.82 L732.01,267.27 Z" fill="#ffffff" fill-rule="nonzero"/>
<path d="M633.10,345.71 L651.20,345.71 L651.20,407.60 L651.12,408.78 L650.89,409.94 L650.51,411.06 L649.99,412.12 L649.33,413.11 L648.55,414.00 L647.66,414.78 L646.67,415.44 L645.61,415.96 L644.49,416.34 L643.33,416.57 L642.15,416.65 L640.97,416.57 L639.81,416.34 L638.69,415.96 L637.62,415.44 L636.64,414.78 L635.75,414.00 L634.97,413.11 L634.31,412.12 L633.79,411.06 L633.41,409.94 L633.18,408.78 L633.10,407.60 Z M729.84,267.67 L651.20,366.58 L633.10,345.71 L712.74,253.51 L713.74,252.45 L714.87,251.54 L716.10,250.78 L717.43,250.18 L718.82,249.77 L720.25,249.54 L721.71,249.50 L723.15,249.65 L724.56,249.98 L725.92,250.50 L727.20,251.19 L728.37,252.04 L729.43,253.04 L730.34,254.17 L731.10,255.41 L731.70,256.73 L732.11,258.12 L732.34,259.56 L732.38,261.01 L732.23,262.45 L731.90,263.86 L731.38,265.22 L730.69,266.50 Z" fill="#7c7c7c" fill-rule="nonzero"/>
<path d="M634.00,345.97 L650.30,345.97 L650.30,407.60 L650.23,408.66 L650.02,409.71 L649.68,410.72 L649.21,411.68 L648.62,412.56 L647.91,413.36 L647.11,414.07 L646.23,414.66 L645.27,415.13 L644.26,415.47 L643.21,415.68 L642.15,415.75 L641.09,415.68 L640.04,415.47 L639.03,415.13 L638.07,414.66 L637.19,414.07 L636.39,413.36 L635.68,412.56 L635.09,411.68 L634.62,410.72 L634.28,409.71 L634.07,408.66 L634.00,407.60 Z M729.11,267.11 L650.30,366.19 L634.00,345.97 L713.41,254.09 L714.33,253.12 L715.36,252.28 L716.50,251.58 L717.72,251.04 L719.00,250.66 L720.31,250.45 L721.65,250.41 L722.97,250.55 L724.27,250.86 L725.52,251.33 L726.69,251.97 L727.77,252.75 L728.74,253.67 L729.58,254.70 L730.28,255.84 L730.83,257.06 L731.21,258.34 L731.42,259.65 L731.45,260.99 L731.32,262.32 L731.01,263.61 L730.53,264.86 L729.90,266.03 Z" fill="#ffffff" fill-rule="nonzero"/>
<path d="M635.50,346.42 L648.80,346.42 L648.80,407.60 L648.74,408.47 L648.57,409.32 L648.29,410.14 L647.91,410.93 L647.43,411.65 L646.85,412.30 L646.20,412.88 L645.48,413.36 L644.69,413.74 L643.87,414.02 L643.02,414.19 L642.15,414.25 L641.28,414.19 L640.43,414.02 L639.61,413.74 L638.82,413.36 L638.10,412.88 L637.45,412.30 L636.87,411.65 L636.39,410.93 L636.01,410.14 L635.73,409.32 L635.56,408.47 L635.50,407.60 Z M727.91,266.18 L648.80,365.53 L635.50,346.42 L714.52,255.07 L715.30,254.24 L716.19,253.52 L717.16,252.93 L718.20,252.46 L719.29,252.14 L720.41,251.96 L721.55,251.93 L722.68,252.05 L723.79,252.31 L724.85,252.72 L725.85,253.26 L726.77,253.93 L727.60,254.71 L728.32,255.59 L728.91,256.56 L729.37,257.60 L729.70,258.69 L729.88,259.82 L729.91,260.96 L729.79,262.09 L729.53,263.19 L729.12,264.26 L728.58,265.26 Z" fill="#606060" fill-rule="nonzero"/>
<path d="M636.50,346.71 L647.80,346.71 L647.80,407.60 L647.75,408.34 L647.61,409.06 L647.37,409.76 L647.04,410.43 L646.63,411.04 L646.15,411.60 L645.59,412.08 L644.98,412.49 L644.31,412.82 L643.61,413.06 L642.89,413.20 L642.15,413.25 L641.41,413.20 L640.69,413.06 L639.99,412.82 L639.32,412.49 L638.71,412.08 L638.15,411.60 L637.67,411.04 L637.26,410.43 L636.93,409.76 L636.69,409.06 L636.55,408.34 L636.50,407.60 Z M727.11,265.55 L647.80,365.10 L636.50,346.71 L715.26,255.72 L715.95,254.98 L716.74,254.35 L717.60,253.82 L718.52,253.41 L719.48,253.13 L720.48,252.97 L721.48,252.94 L722.48,253.05 L723.46,253.28 L724.40,253.64 L725.29,254.12 L726.10,254.71 L726.84,255.40 L727.47,256.19 L728.00,257.05 L728.41,257.97 L728.69,258.93 L728.85,259.93 L728.88,260.93 L728.77,261.93 L728.54,262.91 L728.18,263.85 L727.70,264.74 Z" fill="#ffffff" fill-rule="nonzero"/>
<path d="M732.70,246.93 L733.98,248.09 L735.14,249.37 L736.16,250.76 L737.05,252.25 L737.78,253.81 L738.36,255.44 L738.77,257.11 L739.02,258.82 L739.10,260.55 L739.01,262.27 L738.75,263.98 L738.33,265.66 L737.74,267.28 L737.00,268.84 L736.11,270.32 L735.07,271.70 L657.70,369.58 L657.70,369.58 L657.70,407.60" fill="none" stroke="#4a4a4a" stroke-width="0.9" stroke-linejoin="round"/>
<ellipse cx="720.80" cy="260.80" rx="3.4" ry="3.91" fill="#fff" stroke="#555" stroke-width="0.9"/>
<rect x="0" y="-4.0" width="22.28" height="8" rx="1.2" fill="#fff" stroke="#3a3a3a" stroke-width="1.1" transform="translate(715.90,266.65) rotate(129.92)"/>
<ellipse cx="696.70" cy="289.59" rx="3.4" ry="3.91" fill="#fff" stroke="#555" stroke-width="0.9"/>
<rect x="0" y="-4.0" width="7.39" height="8" rx="1.2" fill="#fff" stroke="#3a3a3a" stroke-width="1.1" transform="translate(691.41,295.92) rotate(129.92)"/>
<ellipse cx="680.51" cy="308.94" rx="3.4" ry="3.91" fill="#fff" stroke="#555" stroke-width="0.9"/>
<rect x="0" y="-3.5" width="45.55" height="7" rx="1.2" fill="#fff" stroke="#3a3a3a" stroke-width="1.1" transform="translate(674.19,316.50) rotate(129.92)"/>
<circle cx="642.15" cy="355.20" r="3.5" fill="#fff" stroke="#444" stroke-width="0.9"/>
<path d="M639.95,355.20 H644.35 M642.15,353.00 V357.40" stroke="#777" stroke-width="0.6"/>
<circle cx="642.15" cy="407.60" r="3.5" fill="#fff" stroke="#444" stroke-width="0.9"/>
<path d="M639.95,407.60 H644.35 M642.15,405.40 V409.80" stroke="#777" stroke-width="0.6"/>
<path d="M638.85,359.20 V403.60 M645.45,359.20 V403.60" stroke="#555" stroke-width="0.9"/>
<path d="M625.50,574.99 L658.20,574.99 L658.20,512.20 L658.06,510.07 L657.64,507.97 L656.96,505.94 L656.01,504.03 L654.82,502.25 L653.41,500.64 L651.80,499.23 L650.02,498.04 L648.11,497.09 L646.08,496.41 L643.98,495.99 L641.85,495.85 L639.72,495.99 L637.62,496.41 L635.59,497.09 L633.68,498.04 L631.90,499.23 L630.29,500.64 L628.88,502.25 L627.69,504.03 L626.74,505.94 L626.06,507.97 L625.64,510.07 L625.50,512.20 Z M734.96,668.19 L658.20,555.47 L625.50,574.99 L706.24,688.21 L707.67,689.99 L709.32,691.58 L711.16,692.94 L713.17,694.04 L715.30,694.88 L717.52,695.43 L719.80,695.68 L722.09,695.64 L724.35,695.29 L726.55,694.66 L728.65,693.74 L730.61,692.56 L732.39,691.13 L733.98,689.48 L735.34,687.64 L736.44,685.63 L737.28,683.50 L737.83,681.28 L738.08,679.00 L738.04,676.71 L737.69,674.45 L737.06,672.25 L736.14,670.15 Z" fill="#929292" fill-rule="nonzero"/>
<path d="M626.30,574.71 L657.40,574.71 L657.40,512.20 L657.27,510.17 L656.87,508.18 L656.22,506.25 L655.32,504.43 L654.19,502.73 L652.85,501.20 L651.32,499.86 L649.62,498.73 L647.80,497.83 L645.87,497.18 L643.88,496.78 L641.85,496.65 L639.82,496.78 L637.83,497.18 L635.90,497.83 L634.08,498.73 L632.38,499.86 L630.85,501.20 L629.51,502.73 L628.38,504.43 L627.48,506.25 L626.83,508.18 L626.43,510.17 L626.30,512.20 Z M734.32,668.68 L657.40,555.70 L626.30,574.71 L706.92,687.78 L708.28,689.48 L709.86,691.00 L711.62,692.29 L713.53,693.35 L715.56,694.14 L717.68,694.67 L719.85,694.91 L722.04,694.87 L724.20,694.54 L726.30,693.93 L728.30,693.06 L730.17,691.93 L731.88,690.57 L733.39,688.99 L734.69,687.23 L735.74,685.32 L736.54,683.29 L737.06,681.17 L737.30,678.99 L737.26,676.81 L736.93,674.65 L736.33,672.55 L735.45,670.55 Z" fill="#c6c6c6" fill-rule="nonzero"/>
<path d="M628.20,574.07 L655.50,574.07 L655.50,512.20 L655.38,510.42 L655.03,508.67 L654.46,506.98 L653.67,505.38 L652.68,503.89 L651.50,502.55 L650.16,501.37 L648.68,500.38 L647.07,499.59 L645.38,499.02 L643.63,498.67 L641.85,498.55 L640.07,498.67 L638.32,499.02 L636.63,499.59 L635.02,500.38 L633.54,501.37 L632.20,502.55 L631.02,503.89 L630.03,505.38 L629.24,506.98 L628.67,508.67 L628.32,510.42 L628.20,512.20 Z M732.81,669.83 L655.50,556.25 L628.20,574.07 L708.53,686.75 L709.74,688.27 L711.13,689.61 L712.69,690.76 L714.38,691.69 L716.19,692.40 L718.07,692.86 L719.99,693.08 L721.93,693.04 L723.84,692.75 L725.70,692.21 L727.47,691.44 L729.13,690.44 L730.64,689.23 L731.99,687.83 L733.13,686.28 L734.07,684.58 L734.78,682.78 L735.24,680.90 L735.46,678.98 L735.42,677.04 L735.13,675.13 L734.59,673.27 L733.81,671.49 Z" fill="#ffffff" fill-rule="nonzero"/>
<path d="M630.00,573.46 L653.70,573.46 L653.70,512.20 L653.60,510.65 L653.30,509.13 L652.80,507.67 L652.11,506.28 L651.25,504.99 L650.23,503.82 L649.06,502.80 L647.77,501.94 L646.38,501.25 L644.92,500.75 L643.40,500.45 L641.85,500.35 L640.30,500.45 L638.78,500.75 L637.32,501.25 L635.93,501.94 L634.64,502.80 L633.47,503.82 L632.45,504.99 L631.59,506.28 L630.90,507.67 L630.40,509.13 L630.10,510.65 L630.00,512.20 Z M731.39,670.93 L653.70,556.77 L630.00,573.46 L710.05,685.79 L711.11,687.12 L712.34,688.29 L713.71,689.30 L715.19,690.13 L716.78,690.75 L718.43,691.15 L720.12,691.34 L721.82,691.31 L723.50,691.06 L725.13,690.58 L726.69,689.90 L728.15,689.02 L729.48,687.96 L730.66,686.74 L731.66,685.37 L732.49,683.88 L733.11,682.30 L733.51,680.65 L733.70,678.96 L733.67,677.26 L733.42,675.58 L732.95,673.94 L732.26,672.38 Z" fill="#707070" fill-rule="nonzero"/>
<path d="M630.90,573.16 L652.80,573.16 L652.80,512.20 L652.71,510.77 L652.43,509.37 L651.97,508.01 L651.33,506.73 L650.54,505.53 L649.59,504.46 L648.52,503.51 L647.33,502.72 L646.04,502.08 L644.68,501.62 L643.28,501.34 L641.85,501.25 L640.42,501.34 L639.02,501.62 L637.66,502.08 L636.38,502.72 L635.18,503.51 L634.11,504.46 L633.16,505.53 L632.37,506.73 L631.73,508.01 L631.27,509.37 L630.99,510.77 L630.90,512.20 Z M730.67,671.47 L652.80,557.03 L630.90,573.16 L710.81,685.30 L711.80,686.54 L712.94,687.64 L714.21,688.58 L715.60,689.34 L717.07,689.92 L718.61,690.30 L720.18,690.48 L721.77,690.45 L723.33,690.21 L724.85,689.77 L726.30,689.14 L727.66,688.32 L728.89,687.33 L729.99,686.19 L730.93,684.92 L731.69,683.53 L732.27,682.06 L732.65,680.52 L732.83,678.95 L732.80,677.37 L732.56,675.80 L732.12,674.28 L731.49,672.83 Z" fill="#ffffff" fill-rule="nonzero"/>
<path d="M632.40,572.65 L651.30,572.65 L651.30,512.20 L651.22,510.97 L650.98,509.75 L650.58,508.58 L650.03,507.48 L649.35,506.45 L648.53,505.52 L647.60,504.70 L646.58,504.02 L645.47,503.47 L644.30,503.07 L643.08,502.83 L641.85,502.75 L640.62,502.83 L639.40,503.07 L638.23,503.47 L637.12,504.02 L636.10,504.70 L635.17,505.52 L634.35,506.45 L633.67,507.48 L633.12,508.58 L632.72,509.75 L632.48,510.97 L632.40,512.20 Z M729.48,672.38 L651.30,557.46 L632.40,572.65 L712.08,684.50 L712.95,685.58 L713.95,686.54 L715.06,687.37 L716.28,688.04 L717.57,688.54 L718.91,688.88 L720.29,689.03 L721.68,689.00 L723.05,688.80 L724.38,688.41 L725.65,687.86 L726.84,687.14 L727.92,686.28 L728.88,685.28 L729.71,684.16 L730.38,682.95 L730.88,681.66 L731.21,680.31 L731.37,678.93 L731.34,677.55 L731.14,676.17 L730.75,674.84 L730.20,673.57 Z" fill="#7c7c7c" fill-rule="nonzero"/>
<path d="M633.30,572.35 L650.40,572.35 L650.40,512.20 L650.33,511.08 L650.11,509.99 L649.75,508.93 L649.25,507.93 L648.63,507.00 L647.90,506.15 L647.05,505.42 L646.12,504.80 L645.12,504.30 L644.06,503.94 L642.97,503.72 L641.85,503.65 L640.73,503.72 L639.64,503.94 L638.58,504.30 L637.58,504.80 L636.65,505.42 L635.80,506.15 L635.07,507.00 L634.45,507.93 L633.95,508.93 L633.59,509.99 L633.37,511.08 L633.30,512.20 Z M728.77,672.93 L650.40,557.72 L633.30,572.35 L712.84,684.01 L713.64,685.01 L714.55,685.89 L715.57,686.64 L716.68,687.25 L717.86,687.72 L719.09,688.02 L720.35,688.16 L721.62,688.14 L722.88,687.95 L724.10,687.60 L725.26,687.09 L726.35,686.43 L727.34,685.64 L728.22,684.73 L728.97,683.71 L729.58,682.60 L730.05,681.41 L730.35,680.18 L730.49,678.92 L730.47,677.65 L730.28,676.40 L729.93,675.18 L729.42,674.02 Z" fill="#ffffff" fill-rule="nonzero"/>
<path d="M634.80,571.84 L648.90,571.84 L648.90,512.20 L648.84,511.28 L648.66,510.38 L648.36,509.50 L647.96,508.68 L647.44,507.91 L646.84,507.21 L646.14,506.61 L645.38,506.09 L644.55,505.69 L643.67,505.39 L642.77,505.21 L641.85,505.15 L640.93,505.21 L640.03,505.39 L639.15,505.69 L638.33,506.09 L637.56,506.61 L636.86,507.21 L636.26,507.91 L635.74,508.68 L635.34,509.50 L635.04,510.38 L634.86,511.28 L634.80,512.20 Z M727.57,673.84 L648.90,558.15 L634.80,571.84 L714.11,683.21 L714.78,684.05 L715.56,684.79 L716.42,685.43 L717.36,685.95 L718.36,686.34 L719.40,686.60 L720.46,686.72 L721.54,686.70 L722.60,686.54 L723.63,686.24 L724.61,685.81 L725.53,685.26 L726.37,684.59 L727.11,683.81 L727.75,682.95 L728.27,682.01 L728.66,681.01 L728.92,679.97 L729.03,678.91 L729.01,677.83 L728.85,676.77 L728.56,675.74 L728.13,674.76 Z" fill="#606060" fill-rule="nonzero"/>
<path d="M635.80,571.50 L647.90,571.50 L647.90,512.20 L647.85,511.41 L647.69,510.63 L647.44,509.88 L647.09,509.18 L646.65,508.52 L646.13,507.92 L645.53,507.40 L644.88,506.96 L644.17,506.61 L643.42,506.36 L642.64,506.20 L641.85,506.15 L641.06,506.20 L640.28,506.36 L639.53,506.61 L638.83,506.96 L638.17,507.40 L637.57,507.92 L637.05,508.52 L636.61,509.18 L636.26,509.88 L636.01,510.63 L635.85,511.41 L635.80,512.20 Z M726.78,674.45 L647.90,558.44 L635.80,571.50 L714.96,682.67 L715.55,683.41 L716.23,684.06 L716.98,684.62 L717.81,685.08 L718.69,685.42 L719.60,685.65 L720.54,685.75 L721.48,685.73 L722.41,685.59 L723.31,685.33 L724.18,684.96 L724.98,684.47 L725.72,683.88 L726.37,683.20 L726.93,682.45 L727.39,681.62 L727.73,680.74 L727.96,679.83 L728.06,678.89 L728.04,677.95 L727.90,677.02 L727.64,676.12 L727.27,675.25 Z" fill="#ffffff" fill-rule="nonzero"/>
<path d="M730.38,692.23 L731.71,691.20 L732.93,690.05 L734.03,688.79 L735.00,687.42 L735.84,685.96 L736.52,684.43 L737.06,682.84 L737.43,681.21 L737.65,679.54 L737.70,677.86 L737.58,676.19 L737.30,674.54 L736.86,672.92 L736.27,671.35 L735.52,669.85 L734.63,668.42 L657.80,555.47 L657.80,555.47 L657.80,512.20" fill="none" stroke="#4a4a4a" stroke-width="0.9" stroke-linejoin="round"/>
<ellipse cx="721.20" cy="679.00" rx="3.4" ry="3.91" fill="#fff" stroke="#555" stroke-width="0.9"/>
<rect x="0" y="-4.0" width="25.19" height="8" rx="1.2" fill="#fff" stroke="#3a3a3a" stroke-width="1.1" transform="translate(716.28,671.91) rotate(-124.79)"/>
<ellipse cx="696.98" cy="644.14" rx="3.4" ry="3.91" fill="#fff" stroke="#555" stroke-width="0.9"/>
<rect x="0" y="-4.0" width="8.35" height="8" rx="1.2" fill="#fff" stroke="#3a3a3a" stroke-width="1.1" transform="translate(691.66,636.48) rotate(-124.79)"/>
<ellipse cx="680.71" cy="620.71" rx="3.4" ry="3.91" fill="#fff" stroke="#555" stroke-width="0.9"/>
<rect x="0" y="-3.5" width="51.49" height="7" rx="1.2" fill="#fff" stroke="#3a3a3a" stroke-width="1.1" transform="translate(674.35,611.56) rotate(-124.79)"/>
<circle cx="641.85" cy="564.70" r="3.5" fill="#fff" stroke="#444" stroke-width="0.9"/>
<path d="M639.65,564.70 H644.05 M641.85,562.50 V566.90" stroke="#777" stroke-width="0.6"/>
<circle cx="641.85" cy="512.20" r="3.5" fill="#fff" stroke="#444" stroke-width="0.9"/>
<path d="M639.65,512.20 H644.05 M641.85,510.00 V514.40" stroke="#777" stroke-width="0.6"/>
<path d="M638.55,516.20 V560.70 M645.15,516.20 V560.70" stroke="#555" stroke-width="0.9"/></g>
<text x="211" y="839.6" font-size="20.5" fill="#858585" font-weight="bold" textLength="116" lengthAdjust="spacingAndGlyphs">Neomounts</text>
<text x="845" y="839.6" font-size="15.3" fill="#1a1a1a" stroke="#1a1a1a" stroke-width="0.25" textLength="140.5" lengthAdjust="spacingAndGlyphs">Measuring unit: mm</text>
</svg></body></html>
